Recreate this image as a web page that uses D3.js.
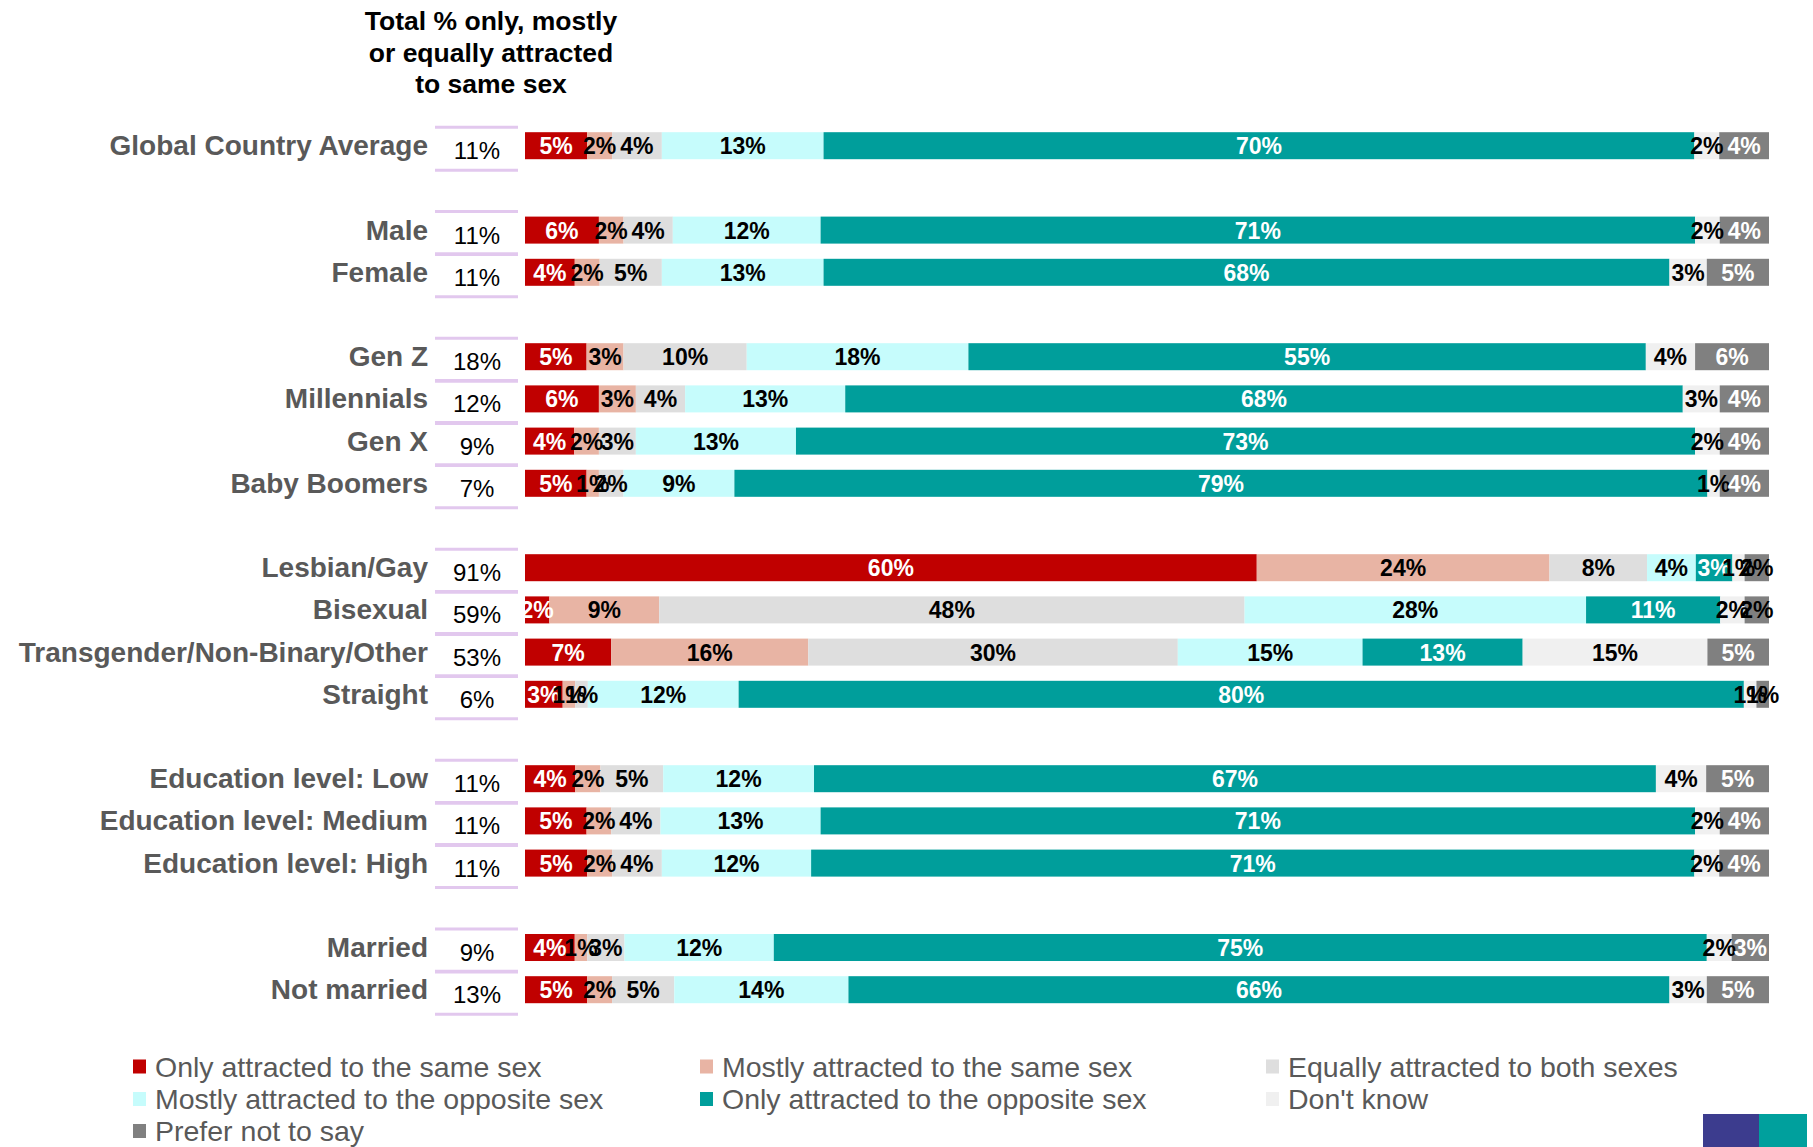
<!DOCTYPE html>
<meta charset="utf-8">
<script src="https://d3js.org/d3.v7.min.js"></script>
<style>
  body { margin: 0; background: #fff; }
  text { font-family: "Liberation Sans", Arial, sans-serif; }
</style>
<div id="chart"></div>
<script>
// groups of rows (a blank row is left between groups)
const groups = [
  ["Global Country Average"],
  ["Male", "Female"],
  ["Gen Z", "Millennials", "Gen X", "Baby Boomers"],
  ["Lesbian/Gay", "Bisexual", "Transgender/Non-Binary/Other", "Straight"],
  ["Education level: Low", "Education level: Medium", "Education level: High"],
  ["Married", "Not married"]
];

const seriesNames = [
  "Only attracted to the same sex",
  "Mostly attracted to the same sex",
  "Equally attracted to both sexes",
  "Mostly attracted to the opposite sex",
  "Only attracted to the opposite sex",
  "Don't know",
  "Prefer not to say"
];
const colors = ["#c00000", "#e8b4a4", "#dedede", "#c6fcfc", "#009e9b", "#f0f0f0", "#808080"];

// values per row, in the order of the groups above
const onlySame     = [5, 6, 4, 5, 6, 4, 5, 60, 2, 7, 3, 4, 5, 5, 4, 5];
const mostlySame   = [2, 2, 2, 3, 3, 2, 1, 24, 9, 16, 1, 2, 2, 2, 1, 2];
const equally      = [4, 4, 5, 10, 4, 3, 2, 8, 48, 30, 1, 5, 4, 4, 3, 5];
const mostlyOpp    = [13, 12, 13, 18, 13, 13, 9, 4, 28, 15, 12, 12, 13, 12, 12, 14];
const onlyOpp      = [70, 71, 68, 55, 68, 73, 79, 3, 11, 13, 80, 67, 71, 71, 75, 66];
const dontKnow     = [2, 2, 3, 4, 3, 2, 1, 1, 2, 15, 1, 4, 2, 2, 2, 3];
const preferNot    = [4, 4, 5, 6, 4, 4, 4, 2, 2, 5, 1, 5, 4, 4, 3, 5];
const totalSame    = [11, 11, 11, 18, 12, 9, 7, 91, 59, 53, 6, 11, 11, 11, 9, 13];

const series = [onlySame, mostlySame, equally, mostlyOpp, onlyOpp, dontKnow, preferNot];
const categories = groups.flat();

// slot keys: categories plus gap slots between groups
const slots = [];
groups.forEach((g, i) => {
  if (i > 0) slots.push("gap" + i);
  g.forEach(c => slots.push(c));
});

const W = 1813, H = 1147;
const svg = d3.select("#chart").append("svg")
  .attr("width", W).attr("height", H);

const x = d3.scaleLinear().domain([0, 1]).range([525, 1769]);
const y = d3.scaleBand().domain(slots).range([124.6, 1010.8])
  .paddingInner(0.36).paddingOuter(0.18);
const mid = c => y(c) + y.bandwidth() / 2;

// stacked rows
const rows = categories.map((c, i) => {
  const vals = series.map(s => s[i]);
  const sum = d3.sum(vals);
  let acc = 0;
  return {
    cat: c,
    total: totalSame[i],
    segs: vals.map((v, k) => {
      const s = { k, v, x0: acc / sum, x1: (acc + v) / sum };
      acc += v;
      return s;
    })
  };
});

// title over the total column
const title = svg.append("text")
  .attr("x", 491).attr("y", 30)
  .attr("text-anchor", "middle")
  .style("font-size", "26.5px").style("font-weight", "bold").style("fill", "#000");
["Total % only, mostly", "or equally attracted", "to same sex"].forEach((t, i) => {
  title.append("tspan").attr("x", 491).attr("dy", i === 0 ? 0 : 31.5).text(t);
});

const row = svg.append("g").selectAll("g")
  .data(rows).enter().append("g");

// category labels
row.append("text")
  .attr("x", 428)
  .attr("y", d => mid(d.cat) + 9.5)
  .attr("text-anchor", "end")
  .style("font-size", "28px").style("font-weight", "bold").style("fill", "#595959")
  .text(d => d.cat);

// lavender lines around the totals
row.append("line")
  .attr("x1", 435).attr("x2", 518)
  .attr("y1", d => mid(d.cat) - 18.5).attr("y2", d => mid(d.cat) - 18.5)
  .style("stroke", "#e2c8ee").style("stroke-width", 3);
row.append("line")
  .attr("x1", 435).attr("x2", 518)
  .attr("y1", d => mid(d.cat) + 24.5).attr("y2", d => mid(d.cat) + 24.5)
  .style("stroke", "#e2c8ee").style("stroke-width", 3);

row.append("text")
  .attr("x", 477)
  .attr("y", d => mid(d.cat) + 13.5)
  .attr("text-anchor", "middle")
  .style("font-size", "24px").style("fill", "#000")
  .text(d => d.total + "%");

// segments
const seg = row.selectAll(".seg")
  .data(d => d.segs.map(s => Object.assign({ cat: d.cat }, s)))
  .enter();

seg.append("rect")
  .attr("x", d => x(d.x0))
  .attr("y", d => y(d.cat))
  .attr("width", d => x(d.x1) - x(d.x0))
  .attr("height", y.bandwidth())
  .style("fill", d => colors[d.k]);

seg.append("text")
  .attr("x", d => (x(d.x0) + x(d.x1)) / 2)
  .attr("y", d => mid(d.cat) + 8.5)
  .attr("text-anchor", "middle")
  .style("font-size", "23px").style("font-weight", "bold")
  .style("fill", d => (d.k === 0 || d.k === 4 || (d.k === 6 && d.v >= 3)) ? "#fff" : "#000")
  .text(d => d.v + "%");

// legend
const legX = [133, 700, 1266], legY = [1066.5, 1099, 1131];
const leg = svg.append("g").selectAll("g")
  .data(seriesNames).enter().append("g")
  .attr("transform", (d, i) => "translate(" + legX[i % 3] + "," + legY[Math.floor(i / 3)] + ")");
leg.append("rect")
  .attr("x", 0).attr("y", -7).attr("width", 13).attr("height", 14)
  .style("fill", (d, i) => colors[i]);
leg.append("text")
  .attr("x", 22).attr("y", 10)
  .style("font-size", "28.5px").style("fill", "#595959")
  .text(d => d);

// small logo block bottom right
svg.append("rect").attr("x", 1703).attr("y", 1114).attr("width", 56).attr("height", 33).style("fill", "#3c3c8e");
svg.append("rect").attr("x", 1759).attr("y", 1114).attr("width", 48).attr("height", 33).style("fill", "#00a09d");
</script>
